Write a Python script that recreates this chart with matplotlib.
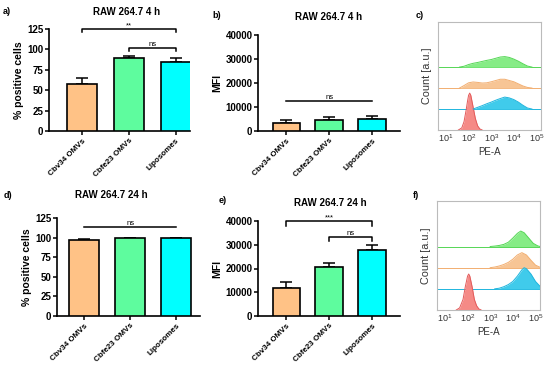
"""Uptake of OMVs / liposomes by RAW 264.7 cells: % positive cells, MFI and PE-A histograms."""

import matplotlib

matplotlib.use("Agg")
import matplotlib.pyplot as plt

plt.rcParams["font.family"] = ["Liberation Sans", "DejaVu Sans"]
plt.rcParams["mathtext.fontset"] = "custom"
plt.rcParams["mathtext.rm"] = "Liberation Sans"

W, H = 550, 365

groups = ["Cbv34 OMVs", "Cbfe23 OMVs", "Liposomes"]
bar_colors = ["#FFC286", "#5EFC9E", "#00FFFF"]

pos_4h = [58, 90, 84.5]
pos_4h_err = [6.5, 1.5, 5.0]
mfi_4h = [3300, 4600, 4800]
mfi_4h_err = [1200, 1300, 1400]
pos_24h = [97.5, 99, 99]
pos_24h_err = [0.8, 0.5, 0.5]
mfi_24h = [11800, 20800, 27700]
mfi_24h_err = [2400, 1400, 2100]

# histograms: log10(PE-A) positions and heights (baseline spacing = 1)
red_c_x = [1.55, 1.7, 1.8, 1.9, 1.95, 2.0, 2.05, 2.1, 2.2, 2.3, 2.4, 2.5, 2.6]
red_c_y = [0, 0.1, 0.4, 1.0, 1.35, 1.65, 1.76, 1.65, 1.1, 0.55, 0.2, 0.05, 0]
cyan_c_x = [2.2, 2.4, 2.6, 2.8, 3.0, 3.2, 3.4, 3.6, 3.8, 4.0, 4.2, 4.4, 4.6, 4.8]
cyan_c_y = [0, 0.08, 0.16, 0.25, 0.33, 0.42, 0.5, 0.57, 0.53, 0.45, 0.33, 0.18, 0.05, 0]
orange_c_x = [1.6, 1.8, 2.0, 2.2, 2.4, 2.6, 2.8, 3.0, 3.2, 3.4, 3.6, 3.8, 4.0, 4.2, 4.4, 4.6, 4.8]
orange_c_y = [0, 0.12, 0.25, 0.29, 0.27, 0.24, 0.25, 0.3, 0.36, 0.42, 0.42, 0.36, 0.3, 0.2, 0.1, 0.03, 0]
green_c_x = [1.6, 1.8, 2.0, 2.2, 2.4, 2.6, 2.8, 3.0, 3.2, 3.4, 3.6, 3.8, 4.0, 4.2, 4.4, 4.6, 4.8]
green_c_y = [0, 0.04, 0.12, 0.18, 0.22, 0.27, 0.32, 0.36, 0.42, 0.48, 0.5, 0.46, 0.38, 0.28, 0.16, 0.05, 0]

red_f_x = [1.5, 1.65, 1.8, 1.9, 2.0, 2.05, 2.1, 2.2, 2.3, 2.4, 2.5, 2.6]
red_f_y = [0, 0.1, 0.5, 1.1, 1.6, 1.7, 1.6, 1.1, 0.5, 0.2, 0.05, 0]
cyan_f_x = [3.2, 3.4, 3.6, 3.8, 4.0, 4.2, 4.4, 4.5, 4.6, 4.8, 5.0, 5.2]
cyan_f_y = [0, 0.03, 0.1, 0.2, 0.35, 0.6, 0.9, 1.0, 0.95, 0.7, 0.35, 0.12]
orange_f_x = [3.0, 3.2, 3.4, 3.6, 3.8, 4.0, 4.2, 4.4, 4.6, 4.8, 5.0, 5.2]
orange_f_y = [0, 0.03, 0.08, 0.15, 0.25, 0.4, 0.6, 0.71, 0.6, 0.35, 0.12, 0.02]
green_f_x = [3.0, 3.2, 3.4, 3.6, 3.8, 4.0, 4.2, 4.35, 4.5, 4.7, 4.9, 5.1, 5.2]
green_f_y = [0, 0.02, 0.05, 0.1, 0.2, 0.4, 0.62, 0.73, 0.65, 0.4, 0.15, 0.03, 0]

hist_tick_labels = ["$10^{1}$", "$10^{2}$", "$10^{3}$", "$10^{4}$", "$10^{5}$"]


def rect(x0, y0, x1, y1):
    return [x0 / W, 1 - y1 / H, (x1 - x0) / W, (y1 - y0) / H]


def bracket(ax, x1, x2, y, drop, text):
    ax.plot([x1, x1, x2, x2], [y - drop, y, y, y - drop], color="black", lw=1.1, clip_on=False)
    ax.text((x1 + x2) / 2, y, text, ha="center", va="bottom", fontsize=5.5, clip_on=False)


def bar_panel(fig, box, vals, errs, ylim, yticks, ylabel, xlim):
    ax = fig.add_axes(rect(*box))
    x = range(len(groups))
    ax.bar(x, vals, width=0.64, color=bar_colors, edgecolor="black", linewidth=1.2, zorder=3)
    ax.errorbar(x, vals, yerr=[[0] * len(errs), errs], fmt="none", ecolor="black",
                elinewidth=1.1, capsize=4, capthick=1.1, zorder=2)
    ax.set_xlim(*xlim)
    ax.set_ylim(*ylim)
    ax.set_yticks(yticks)
    ax.set_xticks(list(x))
    ax.set_xticklabels(groups, rotation=45, ha="right", va="top", rotation_mode="anchor",
                       fontsize=5.8, fontweight="bold")
    for lab in ax.get_yticklabels():
        lab.set_fontweight("bold")
    ax.tick_params(axis="y", labelsize=7, length=3, width=1.1, pad=1)
    ax.tick_params(axis="x", length=3, width=1.1, pad=1.5)
    ax.spines[["top", "right"]].set_visible(False)
    ax.spines[["left", "bottom"]].set_linewidth(1.2)
    ax.set_ylabel(ylabel, fontsize=7.5, fontweight="bold", labelpad=2)
    return ax


def hist_panel(fig, box, curves):
    ax = fig.add_axes(rect(*box))
    ax.set_xscale("log")
    lo, hi = 10 ** 0.65, 10 ** 5.2
    for offset, (xs, ys, fill, edge) in enumerate(curves):
        px = [10 ** v for v in xs]
        py = [offset + v for v in ys]
        ax.fill_between(px, offset, py, color=fill, lw=0, zorder=2)
        ax.plot(px, py, color=edge, lw=0.7, zorder=3)
        if offset > 0:
            ax.plot([lo, hi], [offset, offset], color=edge, lw=0.7, zorder=1)
    ax.set_xlim(lo, hi)
    ax.set_ylim(0, 5.15)
    ax.set_yticks([])
    ax.set_xticks([10, 100, 1000, 10000, 100000])
    ax.set_xticklabels(hist_tick_labels)
    ax.minorticks_off()
    ax.tick_params(axis="x", length=0, labelsize=6.5, pad=2, colors="#333333")
    for sp in ax.spines.values():
        sp.set_color("#BBBBBB")
        sp.set_linewidth(0.8)
    ax.set_xlabel("PE-A", fontsize=7, color="#333333", labelpad=2)
    ax.set_ylabel("Count [a.u.]", fontsize=7.8, color="#333333", labelpad=4)
    return ax


def main():
    fig = plt.figure(figsize=(5.5, 3.65), dpi=100)

    # a) % positive cells, 4 h
    ax = bar_panel(fig, (49, 29, 190, 131), pos_4h, pos_4h_err, (0, 125),
                   [0, 25, 50, 75, 100, 125], "% positive cells", (-0.7, 2.3))
    bracket(ax, 0, 2, 125, 4, "**")
    bracket(ax, 1, 2, 102, 4, "ns")

    # b) MFI, 4 h
    ax = bar_panel(fig, (258, 35, 400, 131), mfi_4h, mfi_4h_err, (0, 40000),
                   [0, 10000, 20000, 30000, 40000], "MFI", (-0.66, 2.65))
    bracket(ax, 0, 2, 12500, 0, "ns")

    # d) % positive cells, 24 h
    ax = bar_panel(fig, (57, 218, 200, 316), pos_24h, pos_24h_err, (0, 125),
                   [0, 25, 50, 75, 100, 125], "% positive cells", (-0.59, 2.52))
    bracket(ax, 0, 2, 113, 0, "ns")

    # e) MFI, 24 h
    ax = bar_panel(fig, (258, 221, 400, 316), mfi_24h, mfi_24h_err, (0, 40000),
                   [0, 10000, 20000, 30000, 40000], "MFI", (-0.66, 2.65))
    bracket(ax, 0, 2, 39800, 1800, "***")
    bracket(ax, 1, 2, 33400, 1800, "ns")

    # c), f) histograms
    hist_panel(fig, (438, 22, 541, 130), [
        (red_c_x, red_c_y, "#F58A86", "#E35A5A"),
        (cyan_c_x, cyan_c_y, "#40CBEB", "#1FB5DD"),
        (orange_c_x, orange_c_y, "#F7C595", "#F2AE70"),
        (green_c_x, green_c_y, "#86EC86", "#55D655"),
    ])
    hist_panel(fig, (437, 201, 540, 310), [
        (red_f_x, red_f_y, "#F58A86", "#E35A5A"),
        (cyan_f_x, cyan_f_y, "#40CBEB", "#1FB5DD"),
        (orange_f_x, orange_f_y, "#F7C595", "#F2AE70"),
        (green_f_x, green_f_y, "#86EC86", "#55D655"),
    ])

    titles = [(127, 12, "RAW 264.7 4 h"), (329, 17, "RAW 264.7 4 h"),
              (111, 195, "RAW 264.7 24 h"), (330, 203, "RAW 264.7 24 h")]
    for x, y, t in titles:
        fig.text(x / W, 1 - y / H, t, ha="center", va="center", fontsize=7, fontweight="bold")
    letters = [(3, 12, "a)"), (212, 15, "b)"), (416, 15, "c)"),
               (4, 195, "d)"), (219, 201, "e)"), (413, 195, "f)")]
    for x, y, t in letters:
        fig.text(x / W, 1 - y / H, t, ha="left", va="center", fontsize=6.5, fontweight="bold")

    fig.savefig("out.png", dpi=100)


if __name__ == "__main__":
    main()
